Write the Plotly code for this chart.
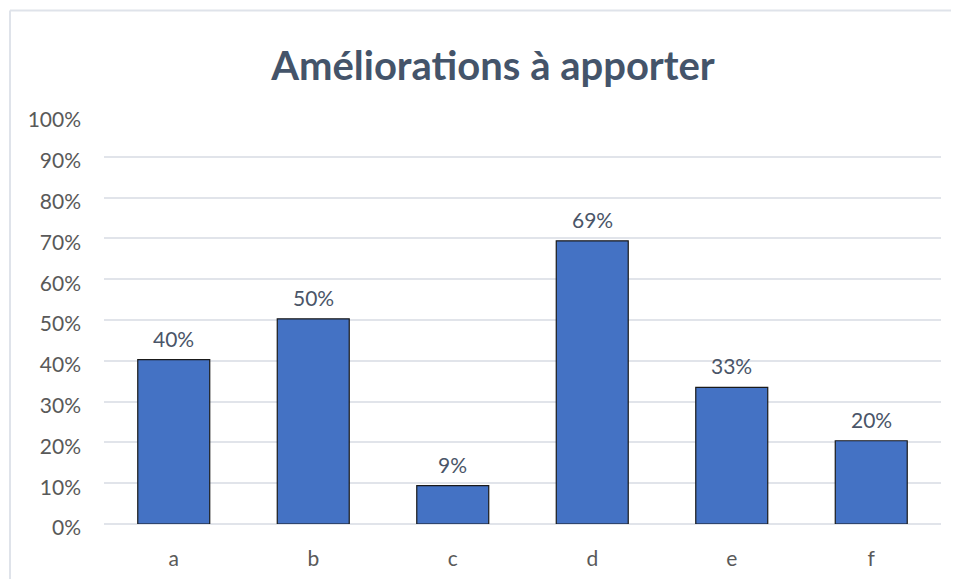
import plotly.graph_objects as go

categories = ["a", "b", "c", "d", "e", "f"]
values = [0.403, 0.503, 0.094, 0.694, 0.335, 0.204]
labels = ["40%", "50%", "9%", "69%", "33%", "20%"]
y_ticks = [i / 10 for i in range(11)]
y_tick_text = [f"{i * 10}%" for i in range(11)]

FONT = "Lato"
OFF = 8  # page offset of the figure inside the browser window

fig = go.Figure()
fig.add_trace(go.Bar(
    x=categories,
    y=values,
    marker=dict(color="#4472C4", line=dict(color="#1a1a1a", width=1.2)),
    hoverinfo="skip",
))
for c, v, t in zip(categories, values, labels):
    fig.add_annotation(x=c, y=v, text=t, showarrow=False, yanchor="bottom",
                       yshift=7, font=dict(family=FONT, size=21, color="#4a5568"))

W, H = 959 - OFF, 579 - OFF
L, R, T, B = 104 - OFF, 959 - 941, 116 - OFF, 579 - 524
pw, ph = W - L - R, H - T - B

def px_x(x):
    return (x - OFF - L) / pw

def px_y(y):
    return (H - B - (y - OFF)) / ph

border = "#dfe3ea"
fig.add_shape(type="line", xref="paper", yref="paper",
              x0=px_x(10), x1=px_x(10), y0=px_y(600), y1=px_y(10.5),
              line=dict(color=border, width=2))
fig.add_shape(type="line", xref="paper", yref="paper",
              x0=px_x(10), x1=px_x(970), y0=px_y(10.5), y1=px_y(10.5),
              line=dict(color=border, width=2))

fig.update_layout(
    width=W, height=H,
    margin=dict(l=L, r=R, t=T, b=B, autoexpand=False),
    paper_bgcolor="white",
    plot_bgcolor="white",
    title=dict(text="<b>Améliorations à apporter</b>", x=px_x(493), xanchor="center",
               y=1 - (66 - OFF) / H, yanchor="middle",
               xref="paper",
               font=dict(family=FONT, size=40, color="#44546A")),
    bargap=0.484,
    showlegend=False,
    xaxis=dict(showgrid=False, showline=False, ticks="", automargin=False,
               tickfont=dict(family=FONT, size=21, color="#595959"),
               ticklabelstandoff=20),
    yaxis=dict(range=[0, 1], tickvals=y_ticks, ticktext=y_tick_text,
               automargin=False,
               showgrid=True, gridcolor="#e1e4ea", gridwidth=2,
               zeroline=True, zerolinecolor="#e1e4ea", zerolinewidth=2,
               showline=False, ticks="",
               tickfont=dict(family=FONT, size=21, color="#595959"),
               ticklabelstandoff=22, ticklabelshift=4),
)

fig.write_html("out.html")
